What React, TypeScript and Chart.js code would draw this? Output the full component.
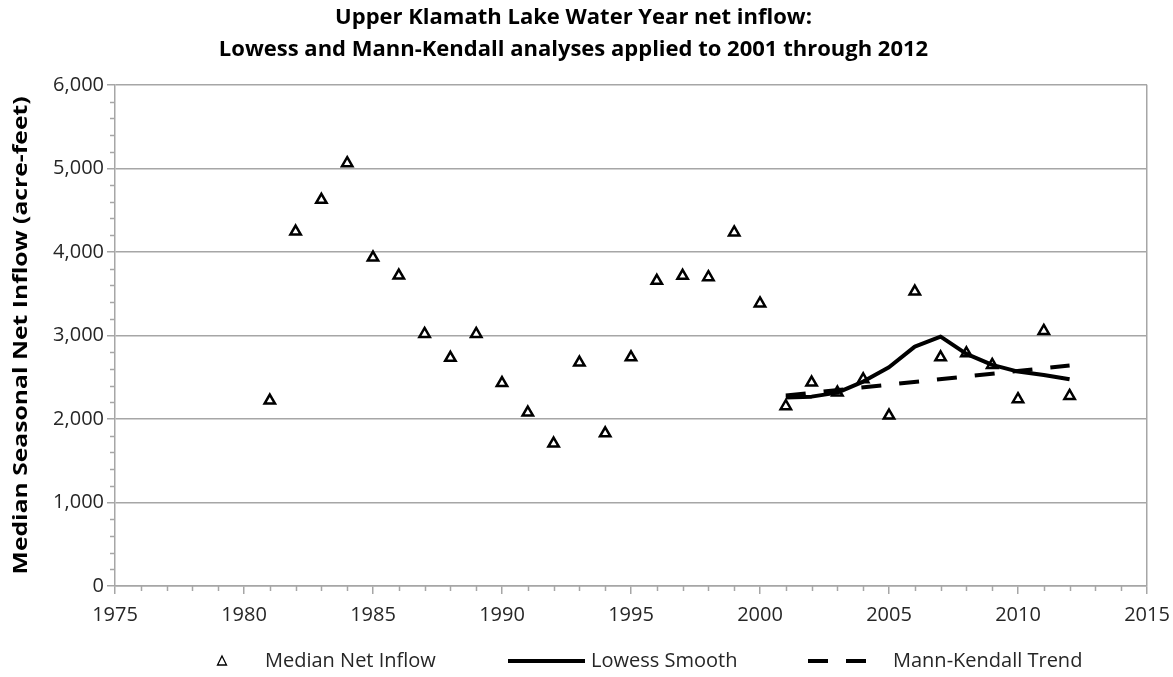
import React, { useEffect, useRef } from "react";
import { Chart, registerables } from "chart.js";

Chart.register(...registerables);

const years = [
  1981, 1982, 1983, 1984, 1985, 1986, 1987, 1988, 1989, 1990, 1991, 1992, 1993, 1994, 1995, 1996,
  1997, 1998, 1999, 2000, 2001, 2002, 2003, 2004, 2005, 2006, 2007, 2008, 2009, 2010, 2011, 2012,
];
const medianNetInflow = [
  2220, 4243, 4623, 5062, 3932, 3716, 3018, 2731, 3018, 2430, 2076, 1705, 2675, 1828, 2738, 3653,
  3713, 3697, 4232, 3383, 2152, 2435, 2315, 2475, 2040, 3525, 2738, 2786, 2647, 2236, 3054, 2275,
];
const lowessYears = [2001, 2002, 2003, 2004, 2005, 2006, 2007, 2008, 2009, 2010, 2011, 2012];
const lowessSmooth = [2258, 2267, 2315, 2447, 2619, 2866, 2986, 2778, 2647, 2567, 2527, 2475];
const trendYears = [2001, 2012];
const mannKendallTrend = [2280, 2640];

const titleLines = [
  "Upper Klamath Lake Water Year net inflow:",
  "Lowess and Mann-Kendall analyses applied to 2001 through 2012",
];
const yAxisTitle = "Median Seasonal Net Inflow (acre-feet)";
const legendLabels = ["Median Net Inflow", "Lowess Smooth", "Mann-Kendall Trend"];

const FONT = "'Open Sans'";
const GRID = "#a6a6a6";
const TEXT = "#262626";

const minorTicks = {
  id: "minorTicks",
  afterDraw(chart: any) {
    const { ctx, scales } = chart;
    const x = scales.x;
    const y = scales.y;
    ctx.save();
    ctx.strokeStyle = GRID;
    ctx.lineWidth = 1.5;
    ctx.beginPath();
    for (let v = 1975; v <= 2015; v += 1) {
      if (v % 5 === 0) continue;
      const px = Math.round(x.getPixelForValue(v)) + 0.5;
      ctx.moveTo(px, y.bottom);
      ctx.lineTo(px, y.bottom + 5);
    }
    for (let v = 0; v <= 6000; v += 200) {
      if (v % 1000 === 0) continue;
      const py = Math.round(y.getPixelForValue(v)) + 0.5;
      ctx.moveTo(x.left - 5, py);
      ctx.lineTo(x.left, py);
    }
    ctx.stroke();
    ctx.restore();
  },
};

const yTitle = {
  id: "yTitle",
  afterDraw(chart: any) {
    const { ctx, chartArea } = chart;
    ctx.save();
    ctx.font = `bold 20px ${FONT}`;
    ctx.fillStyle = "#000";
    ctx.textAlign = "center";
    ctx.textBaseline = "middle";
    const w = ctx.measureText(yAxisTitle).width;
    const sx = 478 / w;
    ctx.translate(21, (chartArea.top + chartArea.bottom) / 2);
    ctx.rotate(-Math.PI / 2);
    ctx.scale(sx, 1);
    ctx.fillText(yAxisTitle, 0, 0);
    ctx.restore();
  },
};

const customLegend = {
  id: "customLegend",
  afterDraw(chart: any) {
    const { ctx } = chart;
    const cy = 661;
    ctx.save();
    ctx.font = `20px ${FONT}`;
    ctx.textBaseline = "middle";
    ctx.textAlign = "left";
    // triangle marker
    ctx.strokeStyle = "#000";
    ctx.lineWidth = 1.3;
    ctx.beginPath();
    ctx.moveTo(222, cy - 5);
    ctx.lineTo(226.5, cy + 4);
    ctx.lineTo(217.5, cy + 4);
    ctx.closePath();
    ctx.fillStyle = "#fff";
    ctx.fill();
    ctx.stroke();
    ctx.fillStyle = TEXT;
    ctx.fillText(legendLabels[0], 265, cy);
    // solid line
    ctx.lineWidth = 4;
    ctx.beginPath();
    ctx.moveTo(508, cy);
    ctx.lineTo(585, cy);
    ctx.stroke();
    ctx.fillText(legendLabels[1], 591, cy);
    // dashed line
    ctx.setLineDash([20, 18]);
    ctx.beginPath();
    ctx.moveTo(808, cy);
    ctx.lineTo(868, cy);
    ctx.stroke();
    ctx.setLineDash([]);
    ctx.fillText(legendLabels[2], 893, cy);
    ctx.restore();
  },
};

export default function App() {
  const ref = useRef<HTMLCanvasElement>(null);
  useEffect(() => {
    document.body.style.margin = "0";
    document.body.style.overflow = "hidden";
    const canvas = ref.current!;
    const chart = new Chart(canvas, {
      type: "scatter",
      data: {
        datasets: [
          {
            label: legendLabels[0],
            data: years.map((yr, i) => ({ x: yr, y: medianNetInflow[i] })),
            pointStyle: "triangle",
            pointRadius: 6,
            pointBorderWidth: 2.5,
            pointBackgroundColor: "#fff",
            pointBorderColor: "#000",
            showLine: false,
            order: 3,
          },
          {
            label: legendLabels[1],
            data: lowessYears.map((yr, i) => ({ x: yr, y: lowessSmooth[i] })),
            showLine: true,
            borderColor: "#000",
            borderWidth: 4,
            borderJoinStyle: "round",
            pointRadius: 0,
            order: 1,
          },
          {
            label: legendLabels[2],
            data: trendYears.map((yr, i) => ({ x: yr, y: mannKendallTrend[i] })),
            showLine: true,
            borderColor: "#000",
            borderWidth: 4,
            borderDash: [20, 18],
            pointRadius: 0,
            order: 2,
          },
        ],
      },
      options: {
        responsive: false,
        animation: false,
        devicePixelRatio: 1,
        layout: { padding: { top: 0, right: 26, bottom: 51, left: 0 } },
        plugins: {
          legend: { display: false },
          tooltip: { enabled: false },
          title: {
            display: true,
            text: titleLines,
            color: "#000",
            font: { family: FONT, size: 22, weight: "bold", lineHeight: 1.45 },
            padding: { top: 2, bottom: 19 },
          },
        },
        scales: {
          x: {
            type: "linear",
            min: 1975,
            max: 2015,
            afterFit(scale: any) {
              scale.height = 40;
              scale.paddingLeft = 0;
              scale.paddingRight = 0;
            },
            ticks: {
              stepSize: 5,
              color: TEXT,
              padding: 9,
              maxRotation: 0,
              font: { family: FONT, size: 20 },
              callback: (v: any) => String(v),
            },
            grid: {
              drawOnChartArea: true,
              color: (c: any) => (c.tick && c.tick.value === 2015 ? GRID : "rgba(0,0,0,0)"),
              tickColor: GRID,
              tickLength: 8,
              lineWidth: 1.5,
            },
            border: { color: GRID, width: 1.5 },
          },
          y: {
            min: 0,
            max: 6000,
            afterFit(scale: any) {
              scale.width = 115;
            },
            ticks: {
              stepSize: 1000,
              color: TEXT,
              padding: 3,
              font: { family: FONT, size: 20 },
              callback: (v: any) => Number(v).toLocaleString("en-US"),
            },
            grid: {
              color: GRID,
              tickColor: GRID,
              tickLength: 8,
              lineWidth: 1.5,
            },
            border: { color: GRID, width: 1.5 },
          },
        },
      },
      plugins: [minorTicks, yTitle, customLegend],
    });
    return () => chart.destroy();
  }, []);
  return (
    <div style={{ width: 1173, height: 677 }}>
      <canvas ref={ref} width={1173} height={677} />
    </div>
  );
}
